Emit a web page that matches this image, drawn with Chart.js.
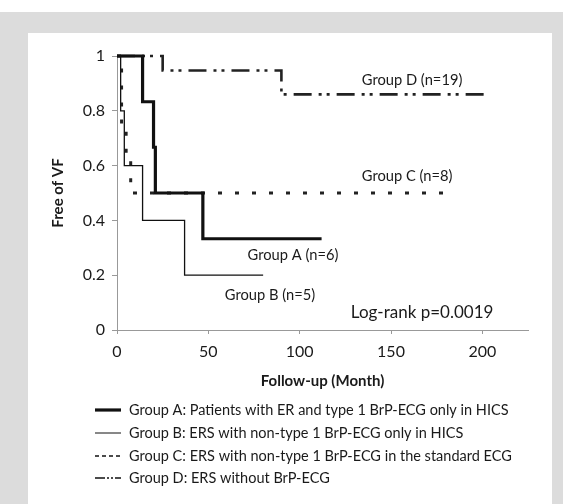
<!DOCTYPE html>
<html>
<head>
<meta charset="utf-8">
<script src="https://cdn.jsdelivr.net/npm/chart.js@4/dist/chart.umd.min.js"></script>
<style>
  html, body { margin: 0; padding: 0; background: #ffffff; }
  #wrap { position: relative; width: 563px; height: 504px; overflow: hidden; }
  #grey { position: absolute; left: 0; top: 12px; width: 563px; height: 492px; background: #dcdcdc; }
  #white { position: absolute; left: 28px; top: 33px; width: 524px; height: 471px; background: #ffffff; }
  canvas { position: absolute; left: 0; top: 0; }
</style>
</head>
<body>
<div id="wrap">
  <div id="grey"></div>
  <div id="white"></div>
  <canvas id="c" width="563" height="504"></canvas>
</div>
<script>
// ---- Data (Kaplan-Meier step curves) ----
const groupATimes = [0, 14, 20, 21, 47, 112];
const groupAValues = [1, 0.833, 0.667, 0.5, 0.333, 0.333];

const groupBTimes = [0, 2, 4, 14, 37, 80];
const groupBValues = [1, 0.8, 0.6, 0.4, 0.2, 0.2];

const groupCTimes = [0, 2.5, 5, 7.5, 185];
const groupCValues = [1, 0.75, 0.625, 0.5, 0.5];

const groupDTimes = [0, 25, 90, 202];
const groupDValues = [1, 0.947, 0.86, 0.86];

const xTickLabels = ['0', '50', '100', '150', '200'];
const yTickLabels = ['0', '0.2', '0.4', '0.6', '0.8', '1'];

const legendLabels = [
  'Group A: Patients with ER and type 1 BrP-ECG only in HICS',
  'Group B: ERS with non-type 1 BrP-ECG only in HICS',
  'Group C: ERS with non-type 1 BrP-ECG in the standard ECG',
  'Group D: ERS without BrP-ECG'
];

const curveLabels = ['Group A (n=6)', 'Group B (n=5)', 'Group C (n=8)', 'Group D (n=19)'];
const curveLabelX = [71.5, 59, 134, 134];
const curveLabelY = [0.274, 0.128, 0.562, 0.912];

const pValueText = 'Log-rank p=0.0019';
const pValueX = 128;
const pValueY = 0.062;

const xTitle = 'Follow-up (Month)';
const yTitle = 'Free of VF';

// ---- Build chart ----
function toPoints(ts, vs) { return ts.map((t, i) => ({ x: t, y: vs[i] })); }

const FONT = 'Lato, "Open Sans", sans-serif';
const TXT = '#1a1a1a';

const legendStyles = [
  { width: 3.2, dash: [] },
  { width: 1, dash: [] },
  { width: 1.4, dash: [4, 3] },
  { width: 1.4, dash: [10, 2, 2, 2, 2, 2] }
];

const overlayPlugin = {
  id: 'overlay',
  afterDraw(chart) {
    const ctx = chart.ctx;
    const xs = chart.scales.x, ys = chart.scales.y;
    ctx.save();
    ctx.fillStyle = TXT;
    ctx.textAlign = 'left';
    ctx.textBaseline = 'middle';
    ctx.font = '14.7px ' + FONT;
    curveLabels.forEach((t, i) => {
      ctx.fillText(t, xs.getPixelForValue(curveLabelX[i]), ys.getPixelForValue(curveLabelY[i]));
    });
    ctx.font = '17px ' + FONT;
    ctx.fillText(pValueText, xs.getPixelForValue(pValueX), ys.getPixelForValue(pValueY));

    // legend
    ctx.font = '14.5px ' + FONT;
    const rowY = [410, 433, 456, 478];
    legendLabels.forEach((t, i) => {
      const st = legendStyles[i];
      ctx.beginPath();
      ctx.setLineDash(st.dash);
      ctx.lineWidth = st.width;
      ctx.strokeStyle = '#111';
      ctx.moveTo(95, rowY[i]);
      ctx.lineTo(121, rowY[i]);
      ctx.stroke();
      ctx.setLineDash([]);
      ctx.fillText(t, 129, rowY[i]);
    });
    ctx.restore();
  }
};

const chart = new Chart(document.getElementById('c'), {
  type: 'line',
  data: {
    datasets: [
      { label: 'Group A', data: toPoints(groupATimes, groupAValues), borderColor: '#111', borderWidth: 3.2, stepped: true, pointRadius: 0, clip: false, fill: false },
      { label: 'Group B', data: toPoints(groupBTimes, groupBValues), borderColor: '#111', borderWidth: 1.3, stepped: true, pointRadius: 0, clip: false, fill: false },
      { label: 'Group C', data: toPoints(groupCTimes, groupCValues), borderColor: '#222', borderWidth: 3, borderDash: [4, 13], stepped: true, pointRadius: 0, clip: false, fill: false },
      { label: 'Group D', data: toPoints(groupDTimes, groupDValues), borderColor: '#222', borderWidth: 2.6, borderDash: [18, 7, 3, 5, 3, 7], stepped: true, pointRadius: 0, clip: false, fill: false }
    ]
  },
  options: {
    responsive: false,
    animation: false,
    layout: { padding: { top: 56, right: 35, bottom: 114, left: 0 } },
    plugins: { legend: { display: false }, tooltip: { enabled: false } },
    scales: {
      x: {
        type: 'linear',
        min: 0, max: 225,
        afterFit(s) { s.height = 60; },
        grid: { display: true, drawOnChartArea: false, drawTicks: true, tickLength: 4, color: '#999' },
        border: { display: true, color: '#999', width: 1 },
        ticks: {
          stepSize: 50, includeBounds: false, padding: 8, color: TXT,
          font: { family: FONT, size: 16 },
          callback: (v) => { const i = Math.round(v / 50); return (Math.abs(v - i * 50) < 1e-6 && xTickLabels[i] !== undefined) ? xTickLabels[i] : ''; }
        },
        title: { display: true, text: xTitle, color: TXT, font: { family: FONT, size: 15, weight: 'bold' }, padding: { top: 0, bottom: 0 } }
      },
      y: {
        min: 0, max: 1,
        afterFit(s) { s.width = 117; },
        grid: { display: true, drawOnChartArea: false, drawTicks: true, tickLength: 5, color: '#999' },
        border: { display: true, color: '#999', width: 1 },
        ticks: {
          stepSize: 0.2, padding: 7, color: TXT,
          font: { family: FONT, size: 16 },
          callback: (v) => { const i = Math.round(v / 0.2); return yTickLabels[i] !== undefined ? yTickLabels[i] : ''; }
        },
        title: { display: true, text: yTitle, color: TXT, font: { family: FONT, size: 15, weight: 'bold' }, padding: { top: 49, bottom: 0 } }
      }
    }
  },
  plugins: [overlayPlugin]
});
</script>
</body>
</html>
